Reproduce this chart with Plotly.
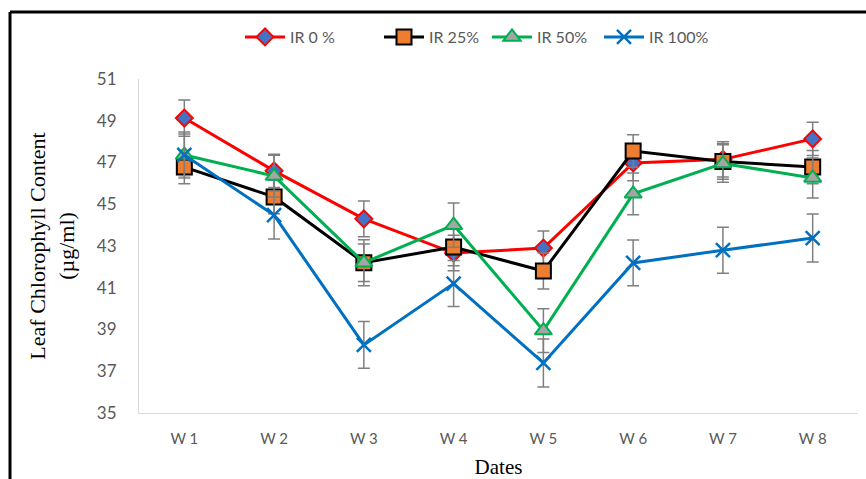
import plotly.graph_objects as go

weeks = ["W 1", "W 2", "W 3", "W 4", "W 5", "W 6", "W 7", "W 8"]

ir0 = [49.13, 46.6, 44.3, 42.66, 42.9, 46.98, 47.15, 48.13]
ir0_err = [0.87, 0.8, 0.86, 0.85, 0.82, 0.85, 0.85, 0.8]

ir25 = [46.78, 45.35, 42.2, 42.95, 41.8, 47.55, 47.05, 46.78]
ir25_err = [0.8, 0.8, 0.9, 0.9, 0.86, 0.78, 0.85, 0.8]

ir50 = [47.36, 46.35, 42.2, 44.0, 38.95, 45.5, 46.95, 46.26]
ir50_err = [1.0, 1.0, 1.1, 1.06, 1.05, 1.0, 0.9, 0.96]

ir100 = [47.36, 44.48, 38.26, 41.2, 37.4, 42.19, 42.8, 43.38]
ir100_err = [1.1, 1.15, 1.12, 1.1, 1.15, 1.1, 1.1, 1.15]

series = [
    ("IR 0 %", ir0, ir0_err, "#ff0000",
     dict(symbol="diamond", size=13, color="#4472c4", line=dict(color="#ff0000", width=2))),
    ("IR 25%", ir25, ir25_err, "#000000",
     dict(symbol="square", size=15, color="#ed7d31", line=dict(color="#000000", width=2))),
    ("IR 50%", ir50, ir50_err, "#00b050",
     dict(symbol="triangle-up", size=15, color="#a5a5a5", line=dict(color="#00b050", width=2))),
    ("IR 100%", ir100, ir100_err, "#0070c0",
     dict(symbol="x-thin", size=14, color="#0070c0", line=dict(color="#0070c0", width=2.5))),
]

serif = "Liberation Serif, Times New Roman, serif"
sans = "Lato, Open Sans, sans-serif"

# one legend box per series so the entries sit in a single spaced row
legend_ids = ["legend", "legend2", "legend3", "legend4"]
legend_px = [240, 379, 487, 599]

fig = go.Figure()
for (name, vals, errs, color, marker), lid in zip(series, legend_ids):
    fig.add_trace(go.Scatter(
        x=weeks, y=vals, name=name, mode="lines+markers",
        line=dict(color=color, width=3),
        marker=marker, legend=lid,
        error_y=dict(type="data", array=errs, visible=True,
                     color="#7f7f7f", thickness=1.5, width=6),
    ))

legend_style = {}
for lid, px in zip(legend_ids, legend_px):
    legend_style[lid] = dict(
        orientation="h", x=(px - 139) / 719, xanchor="left",
        y=(413 - 37) / 334, yanchor="middle",
        bgcolor="rgba(0,0,0,0)", borderwidth=0,
        font=dict(family=sans, size=16, color="#595959"),
        itemwidth=40,
    )

fig.update_layout(
    width=866, height=479,
    margin=dict(l=139, r=8, t=79, b=66),
    plot_bgcolor="white", paper_bgcolor="white",
    showlegend=True,
    **legend_style,
    xaxis=dict(
        automargin=False,
        showgrid=False, showline=True, linecolor="#d9d9d9", linewidth=1,
        ticks="", ticklabelstandoff=12,
        tickfont=dict(family=sans, size=15, color="#595959"),
        title=dict(text="Dates", standoff=16,
                   font=dict(family=serif, size=21, color="#000000")),
    ),
    yaxis=dict(
        automargin=False,
        range=[35, 51], dtick=2, tick0=35,
        showgrid=False, showline=True, linecolor="#d9d9d9", linewidth=1,
        zeroline=False, ticks="", ticklabelstandoff=18,
        tickfont=dict(family=sans, size=17, color="#595959"),
        title=dict(text="Leaf Chlorophyll Content<br>(µg/ml)", standoff=16,
                   font=dict(family=serif, size=22, color="#000000")),
    ),
    shapes=[
        dict(type="line", xref="paper", yref="paper", x0=-0.1794, x1=-0.1794, y0=-0.3, y1=1.2006,
             line=dict(color="black", width=3)),
        dict(type="line", xref="paper", yref="paper", x0=-0.1794, x1=1.02, y0=1.2006, y1=1.2006,
             line=dict(color="black", width=3)),
    ],
)

fig.write_html("out.html")
